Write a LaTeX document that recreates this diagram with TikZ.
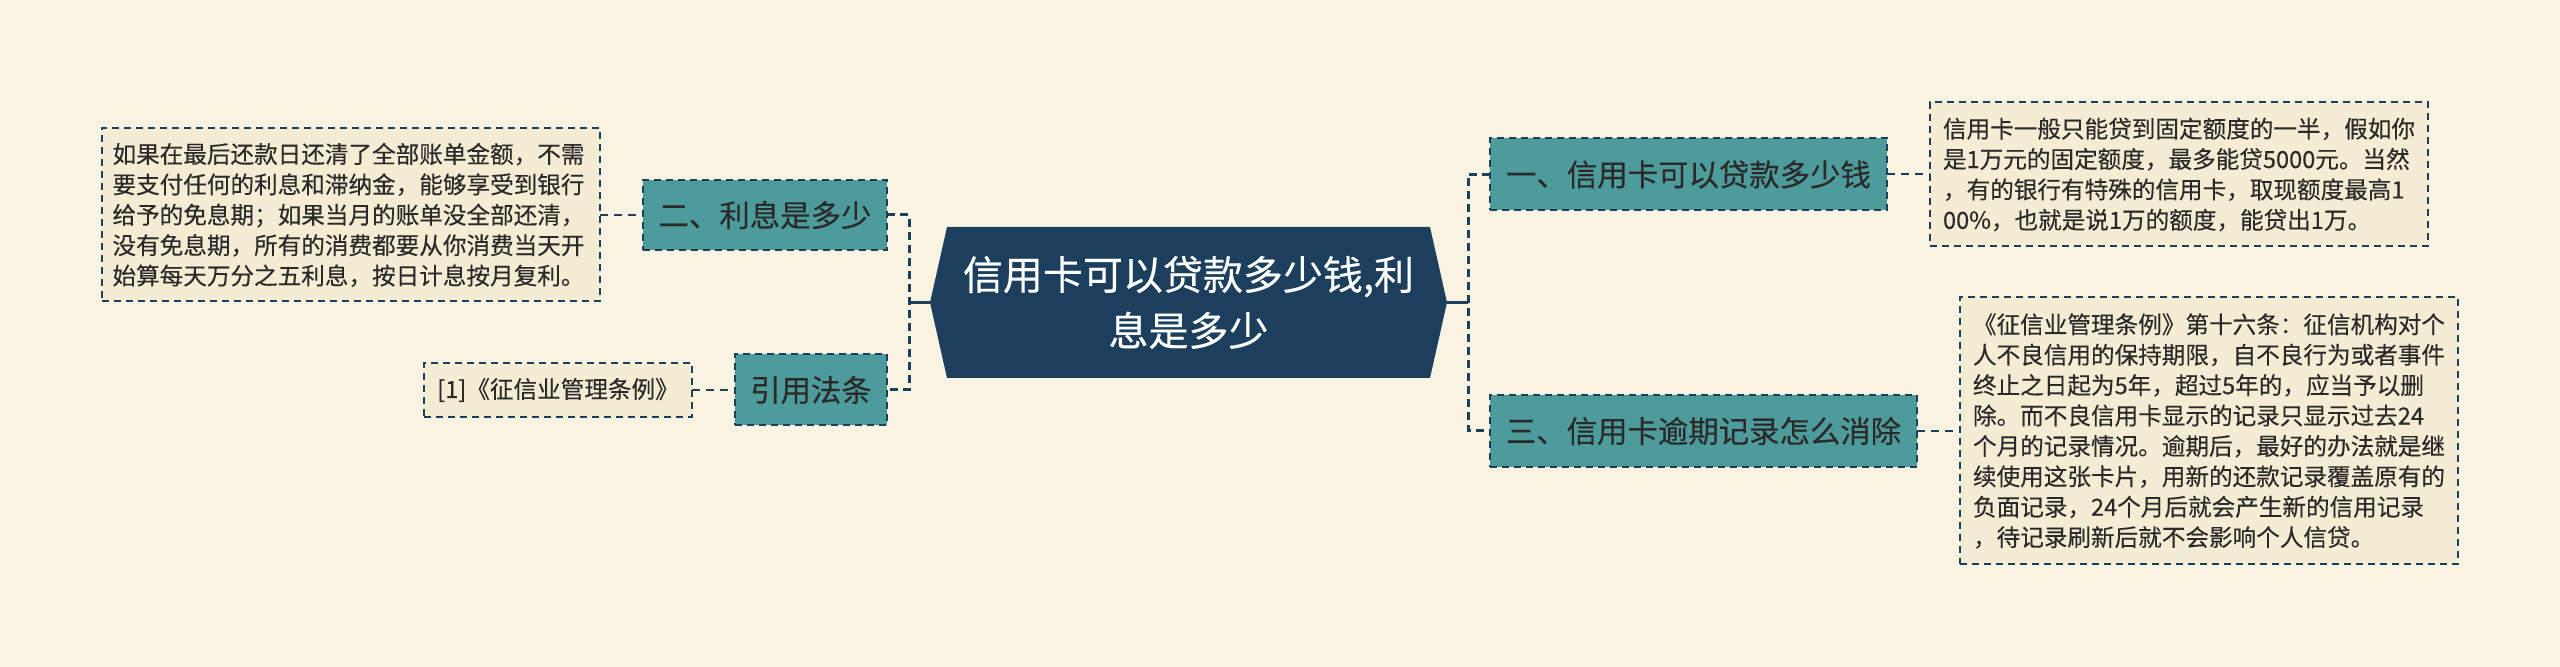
\documentclass[tikz,border=0pt]{standalone}
\usepackage{fontspec}
\setmainfont[FakeBold=0.3]{Noto Sans CJK SC}
\usetikzlibrary{calc}
\definecolor{bgc}{HTML}{F9F4E1}
\definecolor{boxc}{HTML}{F4EDD3}
\definecolor{tealc}{HTML}{4E9B9C}
\definecolor{navyc}{HTML}{1B3F5D}
\definecolor{txtc}{HTML}{2A2A2A}
\pgfdeclarelayer{bglayer}
\pgfsetlayers{bglayer,main}
\begin{document}
\begin{tikzpicture}[x=0.5pt,y=-0.5pt,
  every node/.style={inner sep=0pt, outer sep=0pt},
  centre/.style={minimum width=258.5pt, minimum height=75.5pt, text=white, align=center, font=\fontsize{20}{28}\selectfont},
  topic/.style={fill=tealc, draw=navyc, line width=1pt, dash pattern=on 3.5pt off 2.5pt, text=txtc, font=\fontsize{15.2}{18}\selectfont},
  note/.style={fill=boxc, draw=navyc, line width=1pt, dash pattern=on 3.5pt off 2.5pt, text=txtc, font=\fontsize{11.8}{15.2}\selectfont, align=left},
  trunk/.style={draw=navyc, line width=1.5pt, dash pattern=on 4pt off 2.5pt},
  stub/.style={draw=navyc, line width=1.5pt},
  leaf/.style={draw=navyc, line width=1pt, dash pattern=on 4pt off 3pt}]
\useasboundingbox (0,0) rectangle (2560,667);
\begin{pgfonlayer}{bglayer}
\fill[bgc] (0,0) rectangle (2560,667);
\end{pgfonlayer}

% centre
\node[centre] (c) at (1188.5,302.5) {信用卡可以贷款多少钱,利\\息是多少};
\begin{pgfonlayer}{bglayer}
\fill[navyc] (c.west) -- ($(c.north west)+(17,0)$) -- ($(c.north east)+(-17,0)$) -- (c.east)
  -- ($(c.south east)+(-17,0)$) -- ($(c.south west)+(17,0)$) -- cycle;
\end{pgfonlayer}

% topics
\node[topic, minimum width=122pt, minimum height=35pt] (n2) at (765,215) {二、利息是多少};
\node[topic, minimum width=76pt, minimum height=35.5pt] (n4) at (811,390) {引用法条};
\node[topic, minimum width=198.5pt, minimum height=36pt] (n1) at (1688.5,174.5) {一、信用卡可以贷款多少钱};
\node[topic, minimum width=213.5pt, minimum height=36pt] (n3) at (1703.5,431) {三、信用卡逾期记录怎么消除};

% notes
\node[note, text width=238pt, inner xsep=5.5pt, minimum height=86.5pt] (b2) at (350.5,215) {如果在最后还款日还清了全部账单金额，不需\\要支付任何的利息和滞纳金，能够享受到银行\\给予的免息期；如果当月的账单没全部还清，\\没有免息期，所有的消费都要从你消费当天开\\始算每天万分之五利息，按日计息按月复利。};
\node[note, minimum width=134pt, minimum height=27pt] (b4) at (558,390) {[1]《征信业管理条例》};
\node[note, text width=236pt, inner xsep=6.5pt, minimum height=72pt] (b1) at (2179,174.5) {信用卡一般只能贷到固定额度的一半，假如你\\是1万元的固定额度，最多能贷5000元。当然\\，有的银行有特殊的信用卡，取现额度最高1\\00\%，也就是说1万的额度，能贷出1万。};
\node[note, text width=236pt, inner xsep=6.5pt, minimum height=133.5pt] (b3) at (2209,431) {《征信业管理条例》第十六条：征信机构对个\\人不良信用的保持期限，自不良行为或者事件\\终止之日起为5年，超过5年的，应当予以删\\除。而不良信用卡显示的记录只显示过去24\\个月的记录情况。逾期后，最好的办法就是继\\续使用这张卡片，用新的还款记录覆盖原有的\\负面记录，24个月后就会产生新的信用记录\\，待记录刷新后就不会影响个人信贷。};

% junctions
\coordinate (jl) at (909,302.5);
\coordinate (jr) at (1468,302.5);
\draw[stub] (c.west) -- (jl);
\draw[stub] (c.east) -- (jr);
\draw[trunk] (n2.east) -- ++(22,0) |- (n4.east);
\draw[trunk] (n1.west) -- ++(-22,0) |- (n3.west);

% leaf connectors
\draw[leaf] (b2.east) -- (n2.west);
\draw[leaf] (b4.east) -- (n4.west);
\draw[leaf] (n1.east) -- (b1.west);
\draw[leaf] (n3.east) -- (b3.west);
\end{tikzpicture}
\end{document}
